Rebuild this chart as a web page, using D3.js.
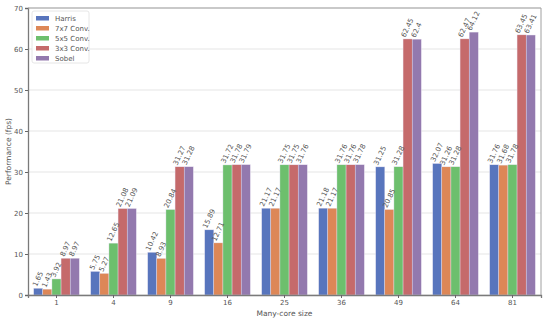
<!DOCTYPE html>
<html>
<head>
<meta charset="utf-8">
<script src="https://cdn.jsdelivr.net/npm/d3@7"></script>
<style>
  body { margin: 0; background: #fff; }
  text { font-family: "DejaVu Sans", sans-serif; }
</style>
</head>
<body>
<div id="chart"></div>
<script>
// datos
const sizes = ['1', '4', '9', '16', '25', '36', '49', '64', '81'];
const seriesNames = ['Harris', '7x7 Conv.', '5x5 Conv.', '3x3 Conv.', 'Sobel'];
const harris = [1.65, 5.75, 10.42, 15.89, 21.17, 21.18, 31.25, 32.07, 31.76];
const conv7 = [1.43, 5.27, 8.93, 12.71, 21.17, 21.17, 20.85, 31.26, 31.68];
const conv5 = [3.92, 12.65, 20.84, 31.72, 31.75, 31.76, 31.28, 31.28, 31.78];
const conv3 = [8.97, 21.08, 31.27, 31.78, 31.75, 31.76, 62.45, 62.47, 63.45];
const sobel = [8.97, 21.09, 31.28, 31.79, 31.76, 31.78, 62.4, 64.12, 63.41];
const yTicks = [0, 10, 20, 30, 40, 50, 60, 70];

const seriesValues = [harris, conv7, conv5, conv3, sobel];
const colors = ['#5875bd', '#dd8757', '#6dbf6d', '#c56a6b', '#9379ae'];

let margin = {top: 8, right: 9, bottom: 25, left: 28},
    width = 550 - margin.left - margin.right,
    height = 320 - margin.top - margin.bottom;

let svg = d3.select('#chart')
    .append('svg')
        .attr('width', 550)
        .attr('height', 320)
    .append('g')
        .attr('transform', 'translate(' + margin.left + ',' + margin.top + ')');

// escalas
let x = d3.scaleBand()
    .domain(sizes)
    .range([0, width])
    .paddingInner(0.2)
    .paddingOuter(0.1);

let xSub = d3.scaleBand()
    .domain(seriesNames)
    .range([0, x.bandwidth()]);

let y = d3.scaleLinear()
    .domain([0, 70])
    .range([height, 0]);

// rejilla
svg.append('g')
    .selectAll('line')
    .data(yTicks)
    .enter()
    .append('line')
    .attr('x1', 0)
    .attr('x2', width)
    .attr('y1', function(d) { return y(d); })
    .attr('y2', function(d) { return y(d); })
    .attr('stroke', '#dedede')
    .attr('stroke-width', 0.8);

// barras
let rows = [];
seriesNames.forEach(function(name, s) {
    sizes.forEach(function(size, i) {
        rows.push({serie: name, idx: s, size: size, value: seriesValues[s][i]});
    });
});

svg.selectAll('.rect')
    .data(rows)
    .enter()
    .append('rect')
    .attr('class', 'rect')
    .attr('x', function(d) { return x(d.size) + xSub(d.serie); })
    .attr('y', function(d) { return y(d.value); })
    .attr('width', xSub.bandwidth())
    .attr('height', function(d) { return height - y(d.value); })
    .attr('fill', function(d) { return colors[d.idx]; })
    .attr('stroke', '#e9e4f2')
    .attr('stroke-width', 0.4);

// etiquetas de valor
const ang = 65 * Math.PI / 180;
svg.selectAll('.val')
    .data(rows)
    .enter()
    .append('text')
    .attr('class', 'val')
    .attr('font-size', '7px')
    .attr('fill', '#555')
    .attr('text-anchor', 'middle')
    .attr('dominant-baseline', 'central')
    .text(function(d) { return d.value; })
    .attr('transform', function(d) {
        let len = this.getComputedTextLength();
        let h = 7;
        let half = (len * Math.sin(ang) + h * Math.cos(ang)) / 2;
        let cx = x(d.size) + xSub(d.serie) + xSub.bandwidth() / 2;
        return 'translate(' + cx + ',' + (y(d.value) - half - 0.5) + ') rotate(-65)';
    });

// ejes
let yAxis = svg.append('g')
    .call(d3.axisLeft(y).tickValues(yTicks).tickSize(3).tickPadding(2));
yAxis.select('.domain').attr('stroke', '#7a7a7a').attr('stroke-width', 1.3);
yAxis.selectAll('.tick line').attr('stroke', '#666');
yAxis.selectAll('.tick text').attr('font-size', '7px').attr('fill', '#555');

let xAxis = svg.append('g')
    .attr('transform', 'translate(0,' + height + ')')
    .call(d3.axisBottom(x).tickSize(3).tickPadding(2));
xAxis.select('.domain').attr('stroke', '#7a7a7a').attr('stroke-width', 1.3);
xAxis.selectAll('.tick line').attr('stroke', '#666');
xAxis.selectAll('.tick text').attr('font-size', '7px').attr('fill', '#555');

// borde superior y derecho
svg.append('path')
    .attr('d', 'M0,0H' + width + 'V' + height)
    .attr('fill', 'none')
    .attr('stroke', '#a0a0a0')
    .attr('stroke-width', 1);

// títulos de ejes
svg.append('text')
    .attr('x', width / 2)
    .attr('y', height + 21)
    .attr('text-anchor', 'middle')
    .attr('font-size', '7.5px')
    .attr('fill', '#555')
    .text('Many-core size');

svg.append('text')
    .attr('transform', 'translate(' + (-17) + ',' + (height / 2) + ') rotate(-90)')
    .attr('text-anchor', 'middle')
    .attr('font-size', '7.5px')
    .attr('fill', '#555')
    .text('Performance (fps)');

// leyenda
let legend = svg.append('g').attr('transform', 'translate(4,3)');
legend.append('rect')
    .attr('width', 57)
    .attr('height', 52)
    .attr('rx', 2)
    .attr('fill', '#fff')
    .attr('fill-opacity', 0.8)
    .attr('stroke', '#e0e0e0')
    .attr('stroke-width', 0.8);

let items = legend.selectAll('.item')
    .data(seriesNames)
    .enter()
    .append('g')
    .attr('transform', function(d, i) { return 'translate(4,' + (5 + i * 10) + ')'; });

items.append('rect')
    .attr('width', 13)
    .attr('height', 4.5)
    .attr('fill', function(d, i) { return colors[i]; });

items.append('text')
    .attr('x', 19)
    .attr('y', 2.5)
    .attr('dominant-baseline', 'central')
    .attr('font-size', '7px')
    .attr('fill', '#555')
    .text(function(d) { return d; });
</script>
</body>
</html>
